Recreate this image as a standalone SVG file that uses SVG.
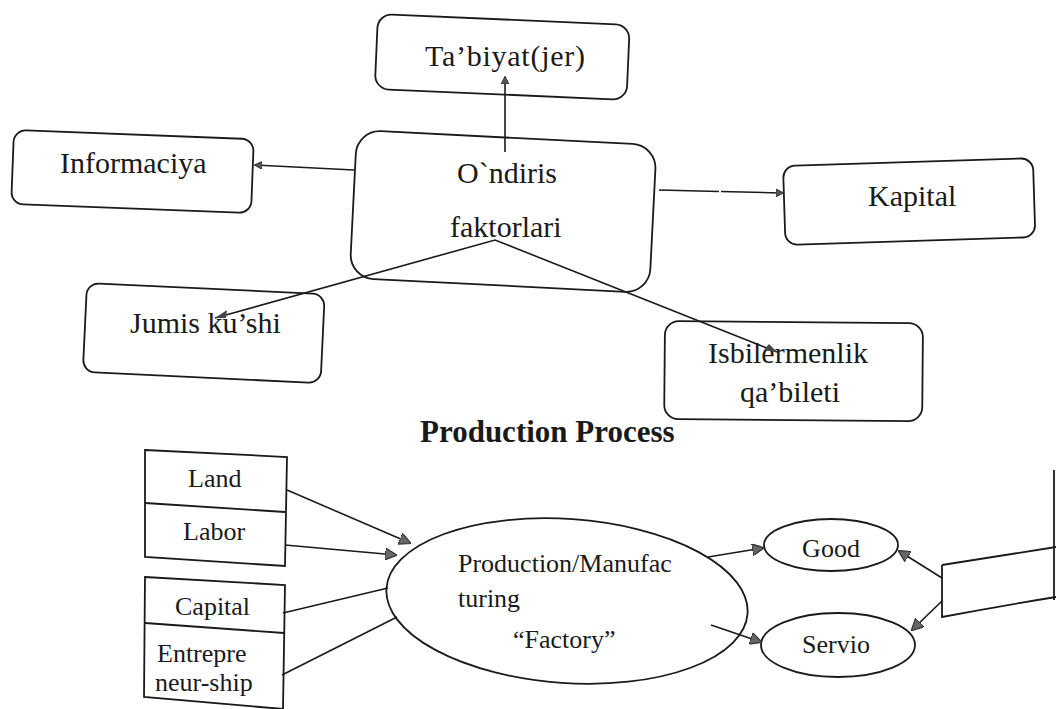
<svg xmlns="http://www.w3.org/2000/svg" width="1056" height="709" viewBox="0 0 1056 709">
<defs>
<style>
.box{fill:none;stroke:#1a1a1a;stroke-width:1.8}
.ln{fill:none;stroke:#1a1a1a;stroke-width:1.6}
.t{font-family:"Liberation Serif","Times New Roman",serif;fill:#1a1a1a}
.t30{font-size:30px}
.t26{font-size:26px}
.mid{text-anchor:middle}
</style>
<marker id="ah" viewBox="0 0 10 10" refX="9" refY="5" markerWidth="8" markerHeight="8" markerUnits="userSpaceOnUse" orient="auto">
<path d="M0,0 L10,5 L0,10 z" fill="#555" stroke="#222" stroke-width="1"/>
</marker>
<marker id="ah2" viewBox="0 0 10 10" refX="9" refY="5" markerWidth="12" markerHeight="12" markerUnits="userSpaceOnUse" orient="auto">
<path d="M0,0 L10,5 L0,10 z" fill="#666" stroke="#333" stroke-width="1"/>
</marker>
</defs>
<rect width="1056" height="709" fill="#ffffff"/>

<g id="tabiyat">
<rect class="box" x="378" y="14" width="252" height="75" rx="14" transform="rotate(2.5 378 14)"/>
<text class="t t30" x="425" y="66" textLength="160">Ta’biyat(jer)</text>
</g>
<g id="informaciya">
<rect class="box" x="14" y="130" width="240" height="74" rx="12" transform="rotate(2.2 14 130)"/>
<text class="t t30" x="60" y="173">Informaciya</text>
</g>
<g id="ondiris">
<rect class="box" x="357" y="130" width="300" height="148" rx="24" transform="rotate(2.9 357 130)"/>
<text class="t t30" x="457" y="183">O`ndiris</text>
<text class="t t30" x="450" y="237">faktorlari</text>
</g>
<g id="kapital">
<rect class="box" x="783" y="166" width="250" height="79" rx="12" transform="rotate(-1.8 783 166)"/>
<text class="t t30" x="868" y="206">Kapital</text>
</g>
<g id="jumis">
<rect class="box" x="87" y="283" width="238" height="89" rx="12" transform="rotate(2.7 87 283)"/>
<text class="t t30" x="130" y="333">Jumis ku’shi</text>
</g>
<g id="isbilermenlik">
<rect class="box" x="665" y="321" width="258" height="98" rx="14" transform="rotate(0.5 665 321)"/>
<text class="t t30" x="708" y="363">Isbilermenlik</text>
<text class="t t30" x="740" y="402">qa’bileti</text>
</g>

<g id="title">
<text class="t" x="420" y="442" font-size="31" font-weight="bold">Production Process</text>
</g>

<g id="inputs1">
<polygon class="box" points="145,450 287,457 285,566 145,557"/>
<line class="box" x1="145" y1="503" x2="285" y2="512"/>
<text class="t t26" x="188" y="487">Land</text>
<text class="t t26" x="183" y="540">Labor</text>
</g>
<g id="inputs2">
<polygon class="box" points="145,577 285,585 283,709 144,697"/>
<line class="box" x1="145" y1="623" x2="284" y2="633"/>
<text class="t t26" x="175" y="615">Capital</text>
<text class="t t26" x="157" y="662">Entrepre</text>
<text class="t t26" x="155" y="691">neur-ship</text>
</g>
<g id="factory">
<ellipse class="box" cx="567" cy="601" rx="181" ry="82" transform="rotate(4 567 601)"/>
<text class="t t26" x="458" y="572">Production/Manufac</text>
<text class="t t26" x="458" y="607">turing</text>
<text class="t t26" x="513" y="648">“Factory”</text>
</g>
<g id="good">
<ellipse class="box" cx="831" cy="545" rx="67" ry="26"/>
<text class="t t26 mid" x="831" y="557">Good</text>
</g>
<g id="servio">
<ellipse class="box" cx="838" cy="645" rx="77" ry="32"/>
<text class="t t26 mid" x="836" y="653">Servio</text>
</g>
<g id="rightbox">
<path class="box" d="M942,565 L942,617 Q1000,606 1056,597 M942,565 Q1000,556 1056,547"/>
<line class="box" x1="1054" y1="470" x2="1054" y2="600"/>
</g>

<g id="connectors">
<line class="ln" x1="505" y1="152" x2="505" y2="77" marker-end="url(#ah)"/>
<line class="ln" x1="354" y1="170" x2="255" y2="165" marker-end="url(#ah)"/>
<line class="ln" x1="659" y1="190" x2="783" y2="193" marker-end="url(#ah)" stroke-dasharray="60 2"/>
<polyline class="ln" points="215,318 495,240 777,352"/>
<path d="M215,318 l12,-8 l-1,8 z" fill="#444"/>
<path d="M777,352 l-13,-2 l5,-6 z" fill="#444"/>
<line class="ln" x1="287" y1="490" x2="410" y2="543" marker-end="url(#ah2)"/>
<line class="ln" x1="285" y1="545" x2="396" y2="555" marker-end="url(#ah2)"/>
<line class="ln" x1="283" y1="613" x2="388" y2="588"/>
<line class="ln" x1="282" y1="675" x2="397" y2="617"/>
<line class="ln" x1="708" y1="557" x2="763" y2="548" marker-end="url(#ah2)"/>
<line class="ln" x1="711" y1="625" x2="761" y2="642" marker-end="url(#ah2)"/>
<line class="ln" x1="942" y1="578" x2="899" y2="551" marker-end="url(#ah2)"/>
<line class="ln" x1="942" y1="601" x2="912" y2="630" marker-end="url(#ah2)"/>
</g>
</svg>
